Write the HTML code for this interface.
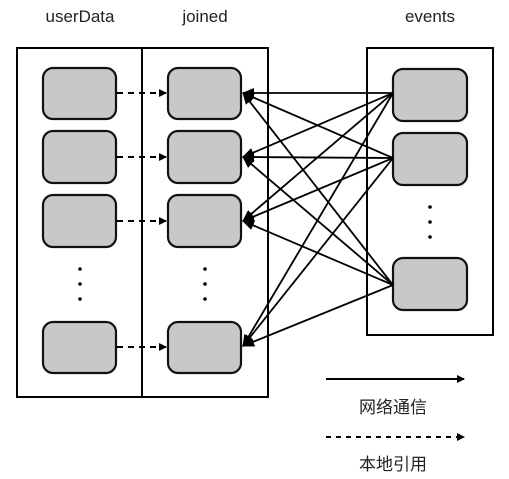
<!DOCTYPE html>
<html><head><meta charset="utf-8"><style>body{margin:0;background:#fff}svg{display:block}</style></head><body>
<svg width="509" height="479" viewBox="0 0 509 479" xmlns="http://www.w3.org/2000/svg">
<defs>
<marker id="ah" markerWidth="8" markerHeight="8" refX="7" refY="4" orient="auto" markerUnits="userSpaceOnUse"><path d="M0,0 L8,4 L0,8 z" fill="#000"/></marker>
<marker id="ah2" markerWidth="12" markerHeight="10" refX="11" refY="5" orient="auto" markerUnits="userSpaceOnUse"><path d="M0,0 L12,5 L0,10 z" fill="#000"/></marker>
</defs>
<g font-family="Liberation Sans Narrow, Liberation Sans, sans-serif" font-size="17" text-anchor="middle" fill="#222">
<text x="80" y="22">userData</text><text x="205" y="22">joined</text><text x="430" y="22">events</text>
</g>
<rect x="17" y="48" width="251" height="349" fill="none" stroke="#000" stroke-width="2"/>
<line x1="142" y1="48" x2="142" y2="397" stroke="#000" stroke-width="2"/>
<rect x="367" y="48" width="126" height="287" fill="none" stroke="#000" stroke-width="2"/>
<g fill="#c8c8c8" stroke="#111" stroke-width="2.2">
<rect x="43" y="68" width="73" height="51" rx="10"/><rect x="43" y="131" width="73" height="52" rx="10"/><rect x="43" y="195" width="73" height="52" rx="10"/><rect x="43" y="322" width="73" height="51" rx="10"/>
<rect x="168" y="68" width="73" height="51" rx="10"/><rect x="168" y="131" width="73" height="52" rx="10"/><rect x="168" y="195" width="73" height="52" rx="10"/><rect x="168" y="322" width="73" height="51" rx="10"/>
<rect x="393" y="69" width="74" height="52" rx="10"/><rect x="393" y="133" width="74" height="52" rx="10"/><rect x="393" y="258" width="74" height="52" rx="10"/>
</g>
<g fill="#000"><circle cx="80" cy="269" r="1.8"/><circle cx="80" cy="284" r="1.8"/><circle cx="80" cy="299" r="1.8"/>
<circle cx="205" cy="269" r="1.8"/><circle cx="205" cy="284" r="1.8"/><circle cx="205" cy="299" r="1.8"/>
<circle cx="430" cy="207" r="1.8"/><circle cx="430" cy="222" r="1.8"/><circle cx="430" cy="237" r="1.8"/></g>
<g stroke="#000" stroke-width="2" stroke-dasharray="6,5" marker-end="url(#ah)">
<line x1="117" y1="93" x2="166" y2="93"/><line x1="117" y1="157" x2="166" y2="157"/><line x1="117" y1="221" x2="166" y2="221"/><line x1="117" y1="347" x2="166" y2="347"/>
</g>
<g stroke="#000" stroke-width="1.8" marker-end="url(#ah2)">
<line x1="393" y1="93" x2="243" y2="93"/><line x1="393" y1="93" x2="243" y2="157"/><line x1="393" y1="93" x2="243" y2="221"/><line x1="393" y1="93" x2="243" y2="346"/>
<line x1="393" y1="158" x2="243" y2="93"/><line x1="393" y1="158" x2="243" y2="157"/><line x1="393" y1="158" x2="243" y2="221"/><line x1="393" y1="158" x2="243" y2="346"/>
<line x1="393" y1="285" x2="243" y2="93"/><line x1="393" y1="285" x2="243" y2="157"/><line x1="393" y1="285" x2="243" y2="221"/><line x1="393" y1="285" x2="243" y2="346"/>
</g>
<line x1="326" y1="379" x2="464" y2="379" stroke="#000" stroke-width="2" marker-end="url(#ah)"/>
<line x1="326" y1="437" x2="464" y2="437" stroke="#000" stroke-width="2" stroke-dasharray="5,5" marker-end="url(#ah)"/>
<g font-family="Liberation Sans, Noto Sans CJK SC, sans-serif" font-size="17" text-anchor="middle" fill="#222">
<text x="393" y="413">网络通信</text><text x="393" y="470">本地引用</text>
</g>
</svg>
</body></html>
